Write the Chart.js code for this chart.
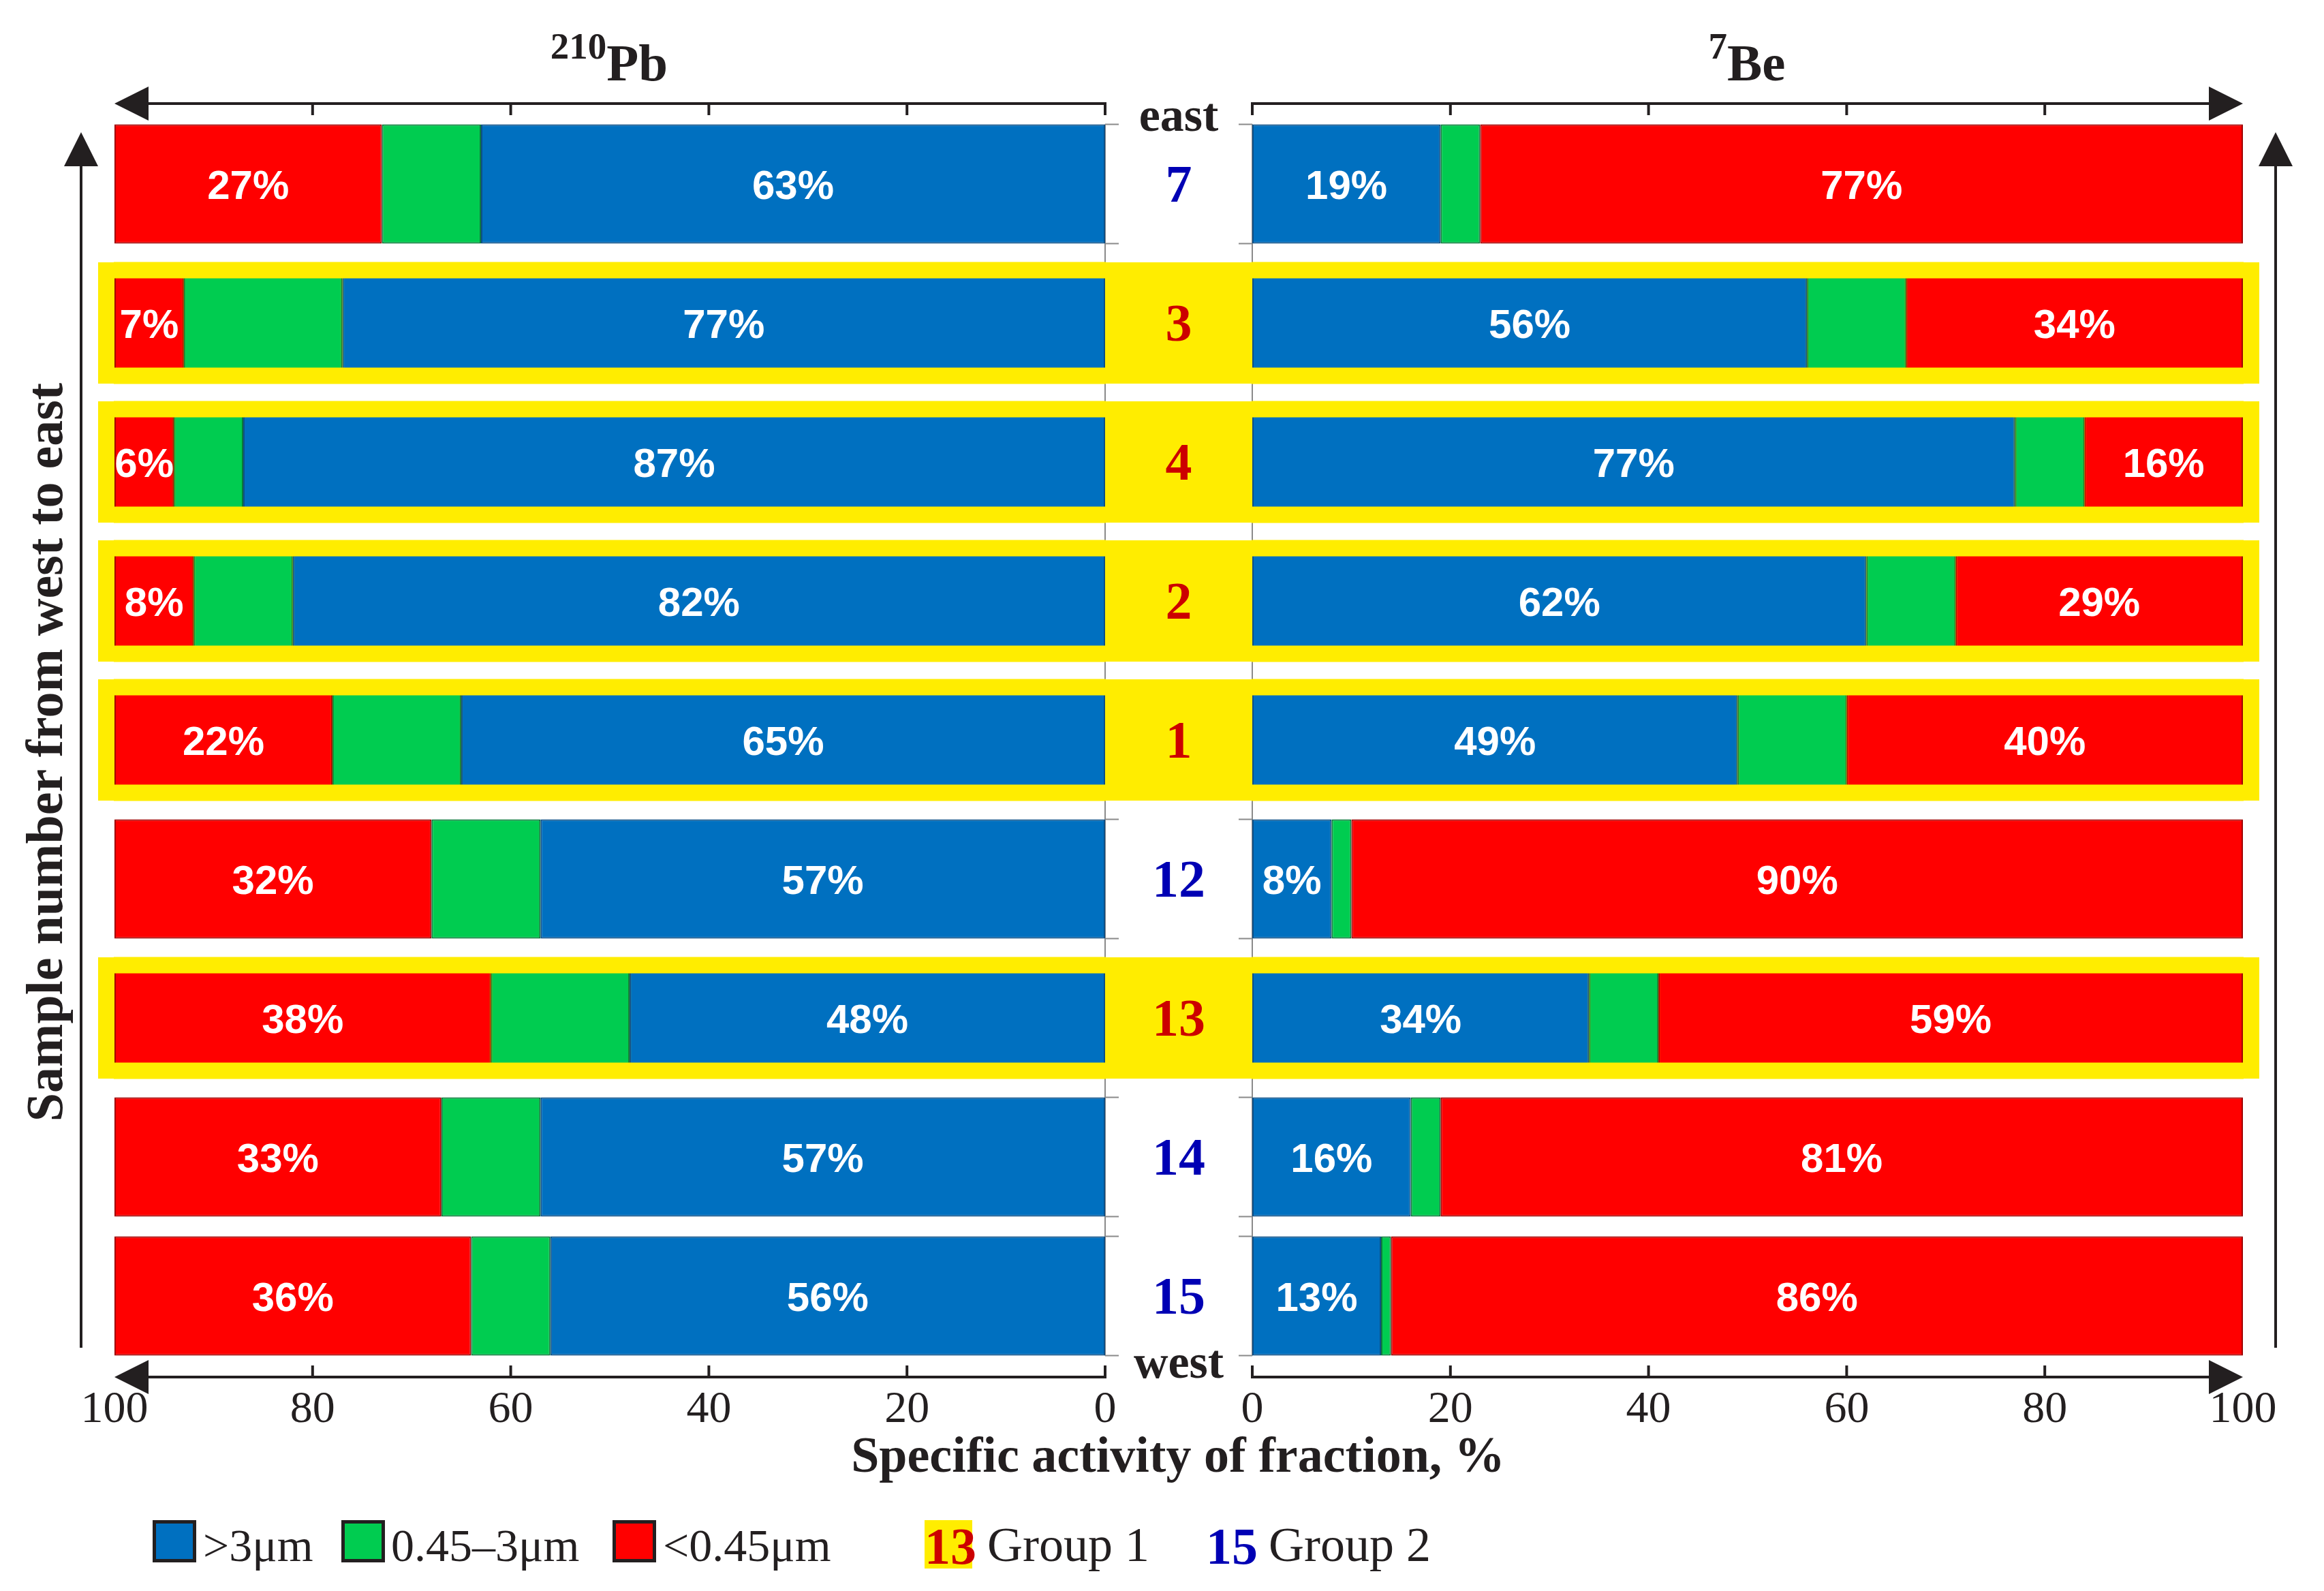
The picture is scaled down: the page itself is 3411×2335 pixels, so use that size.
<!DOCTYPE html>
<html>
<head>
<meta charset="utf-8">
<script src="https://cdn.jsdelivr.net/npm/chart.js@4.4.1/dist/chart.umd.min.js"></script>
<style>
html,body{margin:0;padding:0;background:#fff;}
#wrap{position:relative;width:3411px;height:2335px;overflow:hidden;background:#fff;}
canvas{position:absolute;left:0;top:0;}
.t{position:absolute;font-family:'Liberation Serif','Times New Roman',serif;color:#231f20;line-height:1;white-space:nowrap;}
.b{font-weight:bold;}
.box{position:absolute;box-sizing:border-box;border:5px solid #231f20;}
</style>
</head>
<body>
<div id="wrap">
  <canvas id="cL" width="3411" height="2335"></canvas>
  <canvas id="cR" width="3411" height="2335"></canvas>

  <div class="t b" style="left:594px;top:54px;width:600px;text-align:center;font-size:77px;"><span style="font-size:55px;position:relative;top:-32px;">210</span>Pb</div>
  <div class="t b" style="left:2264px;top:54px;width:600px;text-align:center;font-size:77px;"><span style="font-size:55px;position:relative;top:-32px;">7</span>Be</div>

  <div class="t b" style="left:-535px;top:1066px;width:1200px;height:76px;text-align:center;font-size:76px;transform:rotate(-90deg);">Sample number from west to east</div>
  <div class="t b" style="left:1129px;top:2098px;width:1200px;text-align:center;font-size:74px;">Specific activity of fraction, %</div>

  <div id="legend"></div>
</div>

<script>
// ---------------- data ----------------
const categories = ['7', '3', '4', '2', '1', '12', '13', '14', '15'];
const groups     = [2, 1, 1, 1, 1, 2, 1, 2, 2];
const pbCoarse   = [63, 77, 87, 82, 65, 57, 48, 57, 56];
const pbMedium   = [10, 16, 7, 10, 13, 11, 14, 10, 8];
const pbFine     = [27, 7, 6, 8, 22, 32, 38, 33, 36];
const beCoarse   = [19, 56, 77, 62, 49, 8, 34, 16, 13];
const beMedium   = [4, 10, 7, 9, 11, 2, 7, 3, 1];
const beFine     = [77, 34, 16, 29, 40, 90, 59, 81, 86];
const xTicks     = [0, 20, 40, 60, 80, 100];
const sizeLabels = ['>3μm', '0.45–3μm', '<0.45μm'];
const groupLabels = ['Group 1', 'Group 2'];
const topLabel = 'east';
const bottomLabel = 'west';

// ---------------- style ----------------
const COLORS  = ['#0070C0', '#00CC50', '#FF0000'];
const BORDERS = ['#0d4f86', '#0a7a3a', '#a00000'];
const YELLOW = '#FFED00';
const INK = '#231f20';
const GROUP_COLORS = {1: '#CC0000', 2: '#0000B4'};
const BAR_PCT = 0.858;
const INNER_PCT = 0.642;
const GAP = 216;

function geom(chart) {
  const ys = chart.scales.y;
  const pitch = ys.getPixelForValue(1) - ys.getPixelForValue(0);
  return {ys, pitch, half: pitch * BAR_PCT / 2, inner: pitch * INNER_PCT / 2};
}

const decor = {
  id: 'decor',
  beforeDatasetsDraw(chart, args, opts) {
    const ctx = chart.ctx, a = chart.chartArea, side = opts.side;
    const g = geom(chart);
    const innerX = side === 'L' ? a.right : a.left;
    const dir = side === 'L' ? 1 : -1;
    const mid = side === 'L' ? a.right + GAP / 2 : a.left - GAP / 2;
    ctx.save();
    // category axis line with ticks at bar edges
    ctx.strokeStyle = '#8a8a8a';
    ctx.lineWidth = 2;
    ctx.beginPath();
    const yFirst = g.ys.getPixelForValue(0) - g.half;
    const yLast = g.ys.getPixelForValue(categories.length - 1) + g.half;
    ctx.moveTo(innerX, yFirst); ctx.lineTo(innerX, yLast);
    categories.forEach((c, i) => {
      const yc = g.ys.getPixelForValue(i);
      [yc - g.half, yc + g.half].forEach(yy => { ctx.moveTo(innerX, yy); ctx.lineTo(innerX + dir * 20, yy); });
    });
    ctx.stroke();
    // yellow highlight bands for group 1
    ctx.fillStyle = YELLOW;
    categories.forEach((c, i) => {
      if (groups[i] !== 1) return;
      const yc = g.ys.getPixelForValue(i);
      const x0 = side === 'L' ? a.left - 24 : mid;
      const x1 = side === 'L' ? mid : a.right + 24;
      ctx.fillRect(x0, yc - g.half - 1.5, x1 - x0, 2 * g.half + 3);
    });
    ctx.restore();
  },
  afterDatasetsDraw(chart, args, opts) {
    const ctx = chart.ctx, a = chart.chartArea, side = opts.side;
    const g = geom(chart);
    ctx.save();
    // yellow frame over highlighted bars
    ctx.fillStyle = YELLOW;
    categories.forEach((c, i) => {
      if (groups[i] !== 1) return;
      const yc = g.ys.getPixelForValue(i);
      ctx.fillRect(a.left - 1, yc - g.half - 2, a.width + 2, g.half - g.inner + 2);
      ctx.fillRect(a.left - 1, yc + g.inner, a.width + 2, g.half - g.inner + 2);
    });
    // value labels on coarse and fine fractions
    ctx.fillStyle = '#ffffff';
    ctx.font = 'bold 60px "Liberation Sans", Arial, sans-serif';
    ctx.textAlign = 'center';
    ctx.textBaseline = 'middle';
    [0, 2].forEach(d => {
      const meta = chart.getDatasetMeta(d);
      const vals = chart.data.datasets[d].data;
      meta.data.forEach((bar, i) => {
        const cx = (bar.x + bar.base) / 2;
        ctx.fillText(vals[i] + '%', cx, bar.y + 5);
      });
    });
    // centre column labels (drawn by the right chart, which lies on top)
    if (side === 'R') {
      const mid = a.left - GAP / 2;
      ctx.textAlign = 'center';
      ctx.textBaseline = 'alphabetic';
      ctx.font = 'bold 78px "Liberation Serif", serif';
      categories.forEach((c, i) => {
        const yc = g.ys.getPixelForValue(i);
        ctx.fillStyle = GROUP_COLORS[groups[i]];
        ctx.fillText(c, mid, yc + 26);
      });
      ctx.fillStyle = INK;
      ctx.font = 'bold 70px "Liberation Serif", serif';
      ctx.fillText(topLabel, mid, a.top + 24);
      ctx.fillText(bottomLabel, mid, a.bottom + 18);
    }
    ctx.restore();
  },
  afterDraw(chart, args, opts) {
    const ctx = chart.ctx, a = chart.chartArea, side = opts.side;
    const xs = chart.scales.x;
    const x0 = xs.getPixelForValue(0), x100 = xs.getPixelForValue(100);
    const s = Math.sign(x100 - x0);
    ctx.save();
    ctx.strokeStyle = INK;
    ctx.fillStyle = INK;
    ctx.lineWidth = 4;
    [[a.top - 16, 1], [a.bottom + 17, -1]].forEach(([y, td]) => {
      ctx.beginPath();
      ctx.moveTo(x0, y + td * 17);
      ctx.lineTo(x0, y);
      ctx.lineTo(x100 - s * 40, y);
      [20, 40, 60, 80].forEach(v => {
        const px = xs.getPixelForValue(v);
        ctx.moveTo(px, y); ctx.lineTo(px, y + td * 17);
      });
      ctx.stroke();
      ctx.beginPath();
      ctx.moveTo(x100, y);
      ctx.lineTo(x100 - s * 50, y - 25);
      ctx.lineTo(x100 - s * 50, y + 25);
      ctx.closePath();
      ctx.fill();
    });
    // vertical west->east arrow
    const vx = side === 'L' ? a.left - 49 : a.right + 48;
    const yTip = a.top + 26, yEnd = a.bottom - 26;
    ctx.beginPath();
    ctx.moveTo(vx, yEnd); ctx.lineTo(vx, yTip + 40);
    ctx.stroke();
    ctx.beginPath();
    ctx.moveTo(vx, yTip);
    ctx.lineTo(vx - 25, yTip + 50);
    ctx.lineTo(vx + 25, yTip + 50);
    ctx.closePath();
    ctx.fill();
    ctx.restore();
  }
};

function makeChart(id, side, coarse, medium, fine, padding) {
  return new Chart(document.getElementById(id), {
    type: 'bar',
    data: {
      labels: categories,
      datasets: [
        {label: sizeLabels[0], data: coarse, backgroundColor: COLORS[0], borderColor: BORDERS[0]},
        {label: sizeLabels[1], data: medium, backgroundColor: COLORS[1], borderColor: BORDERS[1]},
        {label: sizeLabels[2], data: fine, backgroundColor: COLORS[2], borderColor: BORDERS[2]}
      ].map(d => Object.assign(d, {borderWidth: 2, borderSkipped: false, barPercentage: BAR_PCT, categoryPercentage: 1}))
    },
    options: {
      indexAxis: 'y',
      responsive: false,
      animation: false,
      devicePixelRatio: 1,
      layout: {padding: padding},
      scales: {
        x: {
          stacked: true,
          reverse: side === 'L',
          min: 0, max: 100,
          grid: {display: false, drawTicks: false},
          border: {display: false},
          afterBuildTicks: sc => { sc.ticks = xTicks.map(v => ({value: v})); },
          afterFit: sc => { sc.height = 120; },
          ticks: {
            autoSkip: false, maxRotation: 0,
            padding: 26,
            color: INK,
            font: {family: '"Liberation Serif", serif', size: 66}
          }
        },
        y: {
          type: 'category',
          stacked: true,
          display: false
        }
      },
      plugins: {
        legend: {display: false},
        tooltip: {enabled: false},
        decor: {side: side}
      }
    },
    plugins: [decor]
  });
}

makeChart('cL', 'L', pbCoarse, pbMedium, pbFine, {left: 168, right: 3411 - 1622, top: 168, bottom: 2335 - 2004 - 120});
makeChart('cR', 'R', beCoarse, beMedium, beFine, {left: 1838, right: 3411 - 3292, top: 168, bottom: 2335 - 2004 - 120});

// ---------------- legend ----------------
const legend = document.getElementById('legend');
const boxX = [224, 501, 899];
const txtX = [298, 574, 973];
sizeLabels.forEach((lab, i) => {
  const b = document.createElement('div');
  b.className = 'box';
  b.style.cssText = `left:${boxX[i]}px;top:2231px;width:64px;height:62px;background:${COLORS[i]};`;
  legend.appendChild(b);
  const t = document.createElement('div');
  t.className = 't';
  t.style.cssText = `left:${txtX[i]}px;top:2234px;font-size:68px;`;
  t.textContent = lab;
  legend.appendChild(t);
});
const gSample = [categories[6], categories[8]];
const gX = [1357, 1770];
const gTxtX = [1449, 1862];
[1, 2].forEach((gr, k) => {
  const n = document.createElement('div');
  n.className = 't b';
  n.style.cssText = `left:${gX[k]}px;top:2231px;height:71px;width:70px;text-align:center;font-size:76px;line-height:76px;color:${GROUP_COLORS[gr]};` + (gr === 1 ? `background:${YELLOW};` : '');
  n.textContent = gSample[k];
  legend.appendChild(n);
  const t = document.createElement('div');
  t.className = 't';
  t.style.cssText = `left:${gTxtX[k]}px;top:2231px;font-size:72px;`;
  t.textContent = groupLabels[k];
  legend.appendChild(t);
});
</script>
</body>
</html>
